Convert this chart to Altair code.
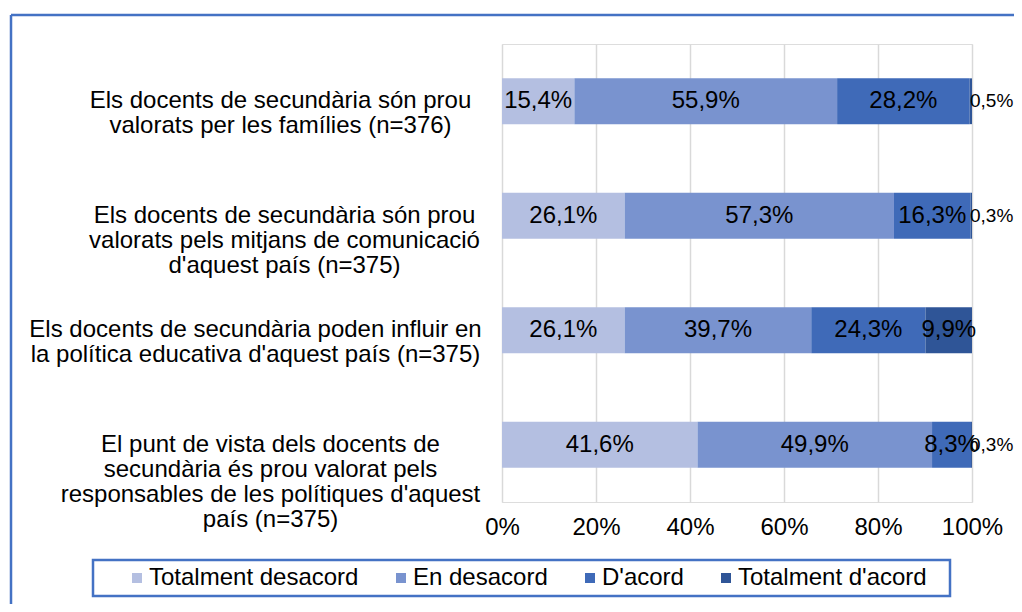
import altair as alt
import pandas as pd

questions = [
    "Els docents de secundària són prou|valorats per les famílies (n=376)",
    "Els docents de secundària són prou|valorats pels mitjans de comunicació|d'aquest país (n=375)",
    "Els docents de secundària poden influir en|la política educativa d'aquest país (n=375)",
    "El punt de vista dels docents de|secundària és prou valorat pels|responsables de les polítiques d'aquest|país (n=375)",
]
categories = ["Totalment desacord", "En desacord", "D'acord", "Totalment d'acord"]
totalment_desacord = [15.4, 26.1, 26.1, 41.6]
en_desacord = [55.9, 57.3, 39.7, 49.9]
d_acord = [28.2, 16.3, 24.3, 8.3]
totalment_d_acord = [0.5, 0.3, 9.9, 0.3]
x_ticks = [0, 20, 40, 60, 80, 100]

colors = ["#B4BFE1", "#7993CF", "#3F6AB8", "#2F5597"]
FONT = "Liberation Sans"
FS = 24

series = [totalment_desacord, en_desacord, d_acord, totalment_d_acord]
rows = []
for ci, (cat, vals) in enumerate(zip(categories, series)):
    for q, v in zip(questions, vals):
        rows.append({"question": q, "category": cat, "order": ci, "value": v})
df = pd.DataFrame(rows)

W, H = 470, 458

base = alt.Chart(df).transform_stack(
    stack="value", groupby=["question"], sort=[alt.SortField("order")], as_=["start", "end"]
).transform_calculate(
    mid="(datum.start + datum.end) / 2",
    label="replace(format(datum.value, '.1f'), '.', ',') + '%'",
)

pad_cond = [
    {"test": f"datum.value == {questions[0]!r}", "value": 222},
    {"test": f"datum.value == {questions[1]!r}", "value": 218},
    {"test": f"datum.value == {questions[2]!r}", "value": 247},
]

y_enc = alt.Y(
    "question:N",
    sort=questions,
    title=None,
    scale=alt.Scale(paddingInner=0.6, paddingOuter=0.3),
    axis=alt.Axis(
        labelExpr="split(datum.label, '|')",
        labelAlign="center",
        labelBaseline="middle",
        labelPadding={"condition": pad_cond, "value": 232},
        labelFont=FONT,
        labelFontSize=FS,
        labelColor="#000000",
        labelLineHeight=25,
        labelLimit=700,
        ticks=False,
        tickSize=0,
        domain=False,
        grid=False,
    ),
)

x_scale = alt.Scale(domain=[0, 100], nice=False, clamp=True)

bars = base.mark_bar().encode(
    x=alt.X(
        "start:Q",
        scale=x_scale,
        title=None,
        axis=alt.Axis(
            values=x_ticks,
            labelExpr="datum.value + '%'",
            labelFont=FONT,
            labelFontSize=FS,
            labelColor="#000000",
            labelPadding=13,
            labelFlush=False,
            labelOverlap=False,
            ticks=False,
            domain=False,
            grid=True,
            gridColor="#D9D9D9",
            gridWidth=1.5,
        ),
    ),
    x2="end:Q",
    y=y_enc,
    color=alt.Color(
        "category:N",
        sort=categories,
        scale=alt.Scale(domain=categories, range=colors),
        legend=alt.Legend(
            orient="none",
            direction="horizontal",
            title=None,
            legendX=-377,
            legendY=522,
            symbolType="square",
            symbolSize=100,
            symbolStrokeWidth=0,
            labelFont=FONT,
            labelFontSize=FS,
            labelColor="#000000",
            labelOffset=0,
            columnPadding=30,
            padding=0,
            labelLimit=400,
        ),
    ),
    order=alt.Order("order:Q"),
)

text_big = base.transform_filter("datum.value >= 1").mark_text(
    font=FONT, fontSize=FS, color="#000000", align="center", baseline="middle"
).encode(
    x=alt.X("mid:Q", scale=x_scale),
    y=alt.Y("question:N", sort=questions),
    text="label:N",
)

text_small = base.transform_filter("datum.value < 1").mark_text(
    font=FONT, fontSize=19, color="#000000", align="left", baseline="middle", dx=-2
).encode(
    x=alt.X("end:Q", scale=x_scale),
    y=alt.Y("question:N", sort=questions),
    text="label:N",
)

one = alt.Data(values=[{"k": 1}])
frame_color = "#4472C4"
frame_left = alt.Chart(one).mark_rule(color=frame_color, strokeWidth=2.5).encode(
    x=alt.value(-491), y=alt.value(-29), y2=alt.value(600)
)
frame_top = alt.Chart(one).mark_rule(color=frame_color, strokeWidth=2.5).encode(
    x=alt.value(-491), x2=alt.value(560), y=alt.value(-29)
)
legend_box = alt.Chart(one).mark_rect(
    fill=None, stroke=frame_color, strokeWidth=2.5
).encode(
    x=alt.value(-409), x2=alt.value(448), y=alt.value(516), y2=alt.value(552)
)

chart = alt.layer(bars, text_big, text_small, frame_left, frame_top, legend_box).properties(
    width=W,
    height=H,
    autosize=alt.AutoSizeParams(type="none"),
    padding={"left": 494, "top": 36, "right": 42, "bottom": 102},
).configure_view(stroke=None).configure(background="white")

chart.save("out.html", embed_options={"renderer": "svg", "actions": False})
